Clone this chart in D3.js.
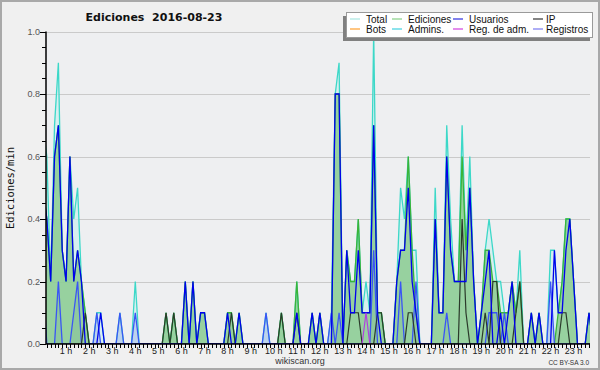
<!DOCTYPE html>
<html>
<head>
<meta charset="utf-8">
<script src="https://cdn.jsdelivr.net/npm/d3@7"></script>
<style>
  body { margin: 0; background: #fff; }
  text { font-family: "Liberation Sans", Arial, sans-serif; }
</style>
</head>
<body>
<div id="chart"></div>
<script>
// ediciones/min por tramo de 10 minutos, una fila = una hora (6 tramos)
const total = [
  .7, .6, .2, .7, .9, .3,   .2, .6, .4, .5, .2, .1,   0, 0, .1, .1, 0, 0,   0, 0, .1, 0, 0, 0,
  .2, 0, 0, 0, 0, 0,        0, 0, .1, 0, .1, 0,       0, .2, 0, .2, 0, .1,  .1, 0, 0, 0, 0, 0,
  .1, .1, 0, .1, 0, 0,      0, 0, 0, 0, .1, 0,        0, 0, .1, 0, 0, 0,    .2, 0, 0, 0, .1, 0,
  .1, 0, 0, .1, .8, .9,     0, .3, .2, .2, .4, .1,    .2, .1, 1, .1, .1, 0, 0, 0, .2, .5, .4, .6,
  .3, .3, 0, 0, 0, 0,       .5, .1, .1, .7, .4, .2,   .2, .7, .3, .6, .2, 0, .1, .3, .4, .3, .2, .2,
  .1, .1, .2, .1, .3, 0,    0, .1, 0, .1, 0, 0,       .3, .3, .1, .2, .4, .4, .2, 0, 0, 0, .1, 0
];
const ediciones = [
  .5, .4, .2, .6, .7, .3,   .2, .6, .2, .3, .2, .1,   0, 0, 0, 0, 0, 0,     0, 0, 0, 0, 0, 0,
  0, 0, 0, 0, 0, 0,         0, 0, .1, 0, .1, 0,       0, .2, 0, .2, 0, .1,  .1, 0, 0, 0, 0, 0,
  .1, .1, 0, .1, 0, 0,      0, 0, 0, 0, 0, 0,         0, 0, .1, 0, 0, 0,    .2, 0, 0, 0, .1, 0,
  .1, 0, 0, 0, .8, .8,      0, .3, .2, .2, .4, .1,    .1, .1, .7, .1, .1, 0, 0, 0, .2, .3, .3, .6,
  .3, .1, 0, 0, 0, 0,       .4, .1, .1, .6, .3, .2,   .2, .6, .3, .5, .2, 0, .1, .3, .3, .2, .2, .1,
  .1, .1, .2, .1, .2, 0,    0, .1, 0, .1, 0, 0,       0, 0, .1, .2, .4, .4, .2, 0, 0, 0, .1, 0
];
const usuarios = [
  .5, .4, .2, .6, .7, .3,   .2, .6, .2, .3, .2, 0,    0, 0, 0, .1, 0, 0,    0, 0, 0, 0, 0, 0,
  0, 0, 0, 0, 0, 0,         0, 0, 0, 0, 0, 0,         0, .2, 0, .2, 0, .1,  .1, 0, 0, 0, 0, 0,
  .1, 0, 0, .1, 0, 0,       0, 0, 0, 0, 0, 0,         0, 0, 0, 0, 0, 0,     .1, 0, 0, 0, .1, 0,
  .1, 0, 0, 0, .8, .8,      0, .3, .1, .1, .3, .1,    .1, .1, .7, .1, 0, 0, 0, 0, .2, .3, .3, .5,
  .2, .1, 0, 0, 0, 0,       .4, .1, .1, .6, .3, .2,   .2, .2, .2, .5, .2, 0, .1, .2, .3, 0, 0, .1,
  0, .1, .2, 0, 0, 0,       0, .1, 0, .1, 0, 0,       0, .3, .1, .1, .3, .4, .2, 0, 0, 0, .1, 0
];
const ip = [
  0, 0, 0, 0, 0, 0,         0, 0, 0, 0, 0, .1,        0, 0, 0, 0, 0, 0,     0, 0, 0, 0, 0, 0,
  0, 0, 0, 0, 0, 0,         0, 0, .1, 0, .1, 0,       0, 0, 0, 0, 0, 0,     0, 0, 0, 0, 0, 0,
  0, .1, 0, 0, 0, 0,        0, 0, 0, 0, 0, 0,         0, 0, .1, 0, 0, 0,    .1, 0, 0, 0, 0, 0,
  0, 0, 0, 0, 0, 0,         0, 0, .1, .1, .1, 0,      0, 0, 0, .1, .1, 0,   0, 0, 0, 0, 0, .1,
  .1, 0, 0, 0, 0, 0,        0, 0, 0, 0, 0, 0,         0, .4, .1, 0, 0, 0,   0, .1, 0, .2, .2, 0,
  0, 0, 0, .1, .2, 0,       0, 0, 0, 0, 0, 0,         0, 0, 0, .1, .1, 0,   0, 0, 0, 0, 0, 0
];
const registros = [
  .2, 0, 0, 0, .2, 0,       0, 0, .1, .2, 0, 0,       0, 0, .1, 0, 0, 0,    0, 0, .1, 0, 0, 0,
  .1, 0, 0, 0, 0, 0,        0, 0, 0, 0, 0, 0,         0, 0, 0, 0, 0, 0,     0, 0, 0, 0, 0, 0,
  0, 0, 0, 0, 0, 0,         0, 0, 0, 0, .1, 0,        0, 0, 0, 0, 0, 0,     0, 0, 0, 0, 0, 0,
  0, 0, 0, .1, 0, .1,       0, 0, 0, 0, 0, 0,         0, 0, .3, 0, 0, 0,    0, 0, 0, .2, 0, 0,
  0, .2, 0, 0, 0, 0,        0, 0, 0, .1, 0, 0,        0, 0, 0, 0, 0, 0,     0, 0, .1, .1, .1, 0,
  .1, 0, 0, 0, 0, 0,        0, 0, 0, 0, 0, 0,         .2, 0, 0, 0, 0, 0,    0, 0, 0, 0, 0, 0
];
const regAdm = [{ bin: 84, v: .1 }];

const legendItems = [
  ["Total", "#a8e6e2"], ["Ediciones", "#88d088"], ["Usuarios", "#3030e0"], ["IP", "#333333"],
  ["Bots", "#ffa030"], ["Admins.", "#40d0e0"], ["Reg. de adm.", "#d040e0"], ["Registros", "#7878f0"]
];
const yTicks = [0, 0.2, 0.4, 0.6, 0.8, 1.0];
const hours = d3.range(1, 24);

var width = 600, height = 370;
var plotLeft = 46, plotRight = 590, plotTop = 31.5, plotBottom = 344;

var svg = d3.select("#chart").append("svg")
  .attr("width", width).attr("height", height);

svg.append("rect").attr("x", 1).attr("y", 1).attr("width", width - 2).attr("height", height - 2)
  .attr("fill", "#f0f0f0").attr("stroke", "#a9a9a9").attr("stroke-width", 2);
svg.append("rect").attr("x", plotLeft).attr("y", plotTop)
  .attr("width", plotRight - plotLeft).attr("height", plotBottom - plotTop)
  .attr("fill", "#eeeff1");

// minutos -> x (el dia completo queda algo mas ancho que el area visible)
var x = d3.scaleLinear().domain([0, 1440]).range([43, 596.7]);
var y = d3.scaleLinear().domain([0, 1]).range([plotBottom, plotTop]);

svg.append("defs").append("clipPath").attr("id", "plot-clip")
  .append("rect").attr("x", plotLeft).attr("y", 0)
  .attr("width", plotRight - plotLeft).attr("height", plotBottom);

// rejilla
svg.selectAll(".grid").data(yTicks.slice(1)).enter().append("line")
  .attr("x1", plotLeft).attr("x2", plotRight)
  .attr("y1", function (d) { return Math.round(y(d)) + 0.5; })
  .attr("y2", function (d) { return Math.round(y(d)) + 0.5; })
  .attr("stroke", "#cacaca").attr("stroke-width", 1);

var plot = svg.append("g").attr("clip-path", "url(#plot-clip)");

var area = function (data) {
  return d3.area()
    .x(function (d, i) { return x(i * 10); })
    .y0(y(0))
    .y1(function (d) { return y(d); })(data);
};
var line = function (data) {
  return d3.line()
    .x(function (d, i) { return x(i * 10); })
    .y(function (d) { return y(d); })(data);
};

plot.append("path").attr("d", area(total)).attr("fill", "#cdeff0").attr("fill-opacity", 0.7);
plot.append("path").attr("d", area(registros)).attr("fill", "#7080e0").attr("fill-opacity", 0.25);
plot.append("path").attr("d", area(ediciones)).attr("fill", "#7cc47c").attr("fill-opacity", 0.7);

plot.append("path").attr("d", line(total)).attr("fill", "none").attr("stroke", "#3cd8c8").attr("stroke-width", 1.3);
plot.append("path").attr("d", line(ediciones)).attr("fill", "none").attr("stroke", "#3ab43a").attr("stroke-width", 1.3);
plot.append("path").attr("d", line(registros)).attr("fill", "none").attr("stroke", "#3a55f5").attr("stroke-width", 1.3);
plot.append("path").attr("d", line(ip)).attr("fill", "none").attr("stroke", "#2b3a2b").attr("stroke-width", 1.2);
plot.append("path").attr("d", line(usuarios)).attr("fill", "none").attr("stroke", "#0000ee").attr("stroke-width", 1.3);

regAdm.forEach(function (p) {
  plot.append("path")
    .attr("d", d3.line()([[x((p.bin - 1) * 10), y(0)], [x(p.bin * 10), y(p.v)], [x((p.bin + 1) * 10), y(0)]]))
    .attr("fill", "none").attr("stroke", "#b040e0").attr("stroke-width", 1.2);
});

// eje Y
var yAxis = svg.append("g");
yAxis.append("line").attr("x1", plotLeft).attr("x2", plotLeft).attr("y1", plotTop).attr("y2", plotBottom)
  .attr("stroke", "#000").attr("stroke-width", 1.5);
yAxis.selectAll(".ymin").data(d3.range(0, 21)).enter().append("line")
  .attr("x1", function (d) { return d % 4 === 0 ? plotLeft - 6 : plotLeft - 4; }).attr("x2", plotLeft)
  .attr("y1", function (d) { return Math.round(y(d * 0.05)) + 0.5; })
  .attr("y2", function (d) { return Math.round(y(d * 0.05)) + 0.5; })
  .attr("stroke", "#000");
yAxis.selectAll(".ylab").data(yTicks).enter().append("text")
  .attr("x", plotLeft - 6).attr("y", function (d) { return y(d) + 3; })
  .attr("text-anchor", "end").attr("font-size", 9).attr("fill", "#555")
  .text(function (d) { return d.toFixed(1); });

svg.append("text")
  .attr("transform", "translate(14,188) rotate(-90)")
  .attr("text-anchor", "middle")
  .style("font-family", "'DejaVu Sans Mono', monospace")
  .attr("font-size", 10.5).attr("fill", "#111")
  .text("Ediciones/min");

// eje X
var xAxis = svg.append("g");
xAxis.append("line").attr("x1", plotLeft).attr("x2", plotRight).attr("y1", plotBottom).attr("y2", plotBottom)
  .attr("stroke", "#000").attr("stroke-width", 1.5);
xAxis.selectAll(".xmin").data(d3.range(1, 144).filter(function (m) { return x(m * 10) <= plotRight; }))
  .enter().append("line")
  .attr("x1", function (d) { return Math.round(x(d * 10)) + 0.5; })
  .attr("x2", function (d) { return Math.round(x(d * 10)) + 0.5; })
  .attr("y1", plotBottom).attr("y2", plotBottom + 4)
  .attr("stroke", "#000");
xAxis.selectAll(".xlab").data(hours).enter().append("text")
  .attr("x", function (d) { return x(d * 60); }).attr("y", plotBottom + 10)
  .attr("text-anchor", "middle").attr("font-size", 9).attr("fill", "#222")
  .text(function (d) { return d + " h"; });

// titulo y pies
svg.append("text").attr("x", 154).attr("y", 21).attr("text-anchor", "middle")
  .style("font-family", "'DejaVu Sans', sans-serif").style("white-space", "pre")
  .attr("font-size", 11).attr("font-weight", "bold").attr("fill", "#111")
  .text("Ediciones  2016-08-23");
svg.append("text").attr("x", 300).attr("y", 364).attr("text-anchor", "middle")
  .attr("font-size", 9).attr("fill", "#333").text("wikiscan.org");
svg.append("text").attr("x", 589).attr("y", 365).attr("text-anchor", "end")
  .attr("font-size", 6.5).attr("fill", "#333").text("CC BY-SA 3.0");

// leyenda
var lg = svg.append("g");
lg.append("rect").attr("x", 343).attr("y", 16).attr("width", 247).attr("height", 25).attr("fill", "#808080");
lg.append("rect").attr("x", 346.5).attr("y", 12.5).attr("width", 246).attr("height", 25)
  .attr("fill", "#fff").attr("stroke", "#9a9a9a");
var colText = [366, 408, 469, 546];
var colLine = [350, 392, 453, 533];
legendItems.forEach(function (it, i) {
  var c = i % 4, r = Math.floor(i / 4);
  var yy = 19 + r * 10;
  lg.append("line").attr("x1", colLine[c]).attr("x2", colLine[c] + 10)
    .attr("y1", yy).attr("y2", yy).attr("stroke", it[1]).attr("stroke-width", 1.2);
  lg.append("text").attr("x", colText[c]).attr("y", yy + 3.5)
    .attr("font-size", 10).attr("fill", "#111").text(it[0]);
});
</script>
</body>
</html>
